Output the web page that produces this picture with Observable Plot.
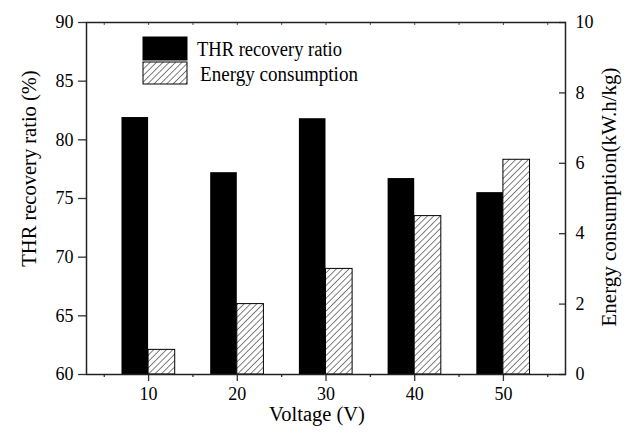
<!DOCTYPE html>
<html><head><meta charset="utf-8">
<script src="https://cdn.jsdelivr.net/npm/d3@7"></script>
<script src="https://cdn.jsdelivr.net/npm/@observablehq/plot@0.6"></script>
<style>body{margin:0;background:#fff} svg, svg text{font-family:"Liberation Serif",serif}</style>
</head><body><div id="chart"></div>
<script>
const voltage = [10, 20, 30, 40, 50];
const thrRatio = [81.9, 77.2, 81.8, 76.7, 75.5];
const energy = [0.7, 2.0, 3.0, 4.5, 6.1];
const xMajorTicks = [10, 20, 30, 40, 50];
const xMinorTicks = [5, 15, 25, 35, 45, 55];
const leftTicks = [60, 65, 70, 75, 80, 85, 90];
const rightTicks = [0, 2, 4, 6, 8, 10];
const seriesNames = ["THR recovery ratio", "Energy consumption"];
const xTitle = "Voltage (V)";
const yLeftTitle = "THR recovery ratio (%)";
const yRightTitle = "Energy consumption(kW.h/kg)";

// right axis (0..10) mapped onto left axis (60..90)
const toLeft = e => 60 + e * 3;
const fromLeft = y => Math.round((y - 60) / 3);
const rows = voltage.map((v, i) => ({v, thr: thrRatio[i], en: energy[i]}));
const barW = 3;
const blank = () => "";

const chart = Plot.plot({
  width: 629, height: 432,
  marginLeft: 86, marginRight: 64, marginTop: 22, marginBottom: 58,
  style: {fontFamily: "'Liberation Serif', serif", fontSize: "18px", color: "#000", background: "#fff"},
  x: {type: "linear", domain: [3, 57]},
  y: {domain: [60, 90]},
  marks: [
    Plot.rectY(rows, {x1: d => d.v - barW, x2: d => d.v, y1: 60, y2: "thr", fill: "#000"}),
    Plot.rectY(rows, {x1: d => d.v, x2: d => d.v + barW, y1: 60, y2: d => toLeft(d.en),
      fill: "url(#hatch)", stroke: "#000", strokeWidth: 1}),
    Plot.axisY(leftTicks, {anchor: "left", tickSize: 8, tickPadding: 5, label: null, stroke: "#333", strokeWidth: 1.3, fill: "#000", fontSize: 18}),
    Plot.axisY(rightTicks.map(toLeft), {anchor: "right", tickSize: -7, tickPadding: 17, label: null,
      tickFormat: fromLeft, stroke: "#333", strokeWidth: 1.3, fill: "#000", fontSize: 18}),
    Plot.axisX(xMajorTicks, {anchor: "bottom", tickSize: 7, tickPadding: 6, label: null, stroke: "#333", strokeWidth: 1.3, fill: "#000", fontSize: 18}),
    Plot.axisX(xMinorTicks, {anchor: "bottom", tickSize: 3, tickFormat: blank, label: null, stroke: "#333", strokeWidth: 1.3}),
    Plot.axisX(xMajorTicks.concat(xMinorTicks), {anchor: "top", tickSize: -2, tickFormat: blank, label: null, stroke: "#555", strokeWidth: 1}),
    Plot.frame({stroke: "#222", strokeWidth: 1.5}),
    Plot.text([yLeftTitle], {frameAnchor: "left", textAnchor: "middle", rotate: -90, dx: -57, dy: -30, fontSize: 20.5, fill: "#000"}),
    Plot.text([yRightTitle], {frameAnchor: "right", textAnchor: "middle", rotate: -90, dx: 44, dy: -1.5, fontSize: 21, fill: "#000"}),
    Plot.text([xTitle], {frameAnchor: "bottom", dy: 46, dx: -9, fontSize: 20.5, fill: "#000"})
  ]
});

const svg = d3.select(chart);
const defs = svg.insert("defs", ":first-child");
const pat = defs.append("pattern").attr("id", "hatch").attr("patternUnits", "userSpaceOnUse")
  .attr("width", 4.5).attr("height", 4.5).attr("patternTransform", "rotate(45)");
pat.append("rect").attr("width", 4.5).attr("height", 4.5).attr("fill", "#fff");
pat.append("line").attr("x1", 0).attr("y1", 0).attr("x2", 0).attr("y2", 4.5)
  .attr("stroke", "#000").attr("stroke-width", 1);

const legendTextLen = [145, 158];
const lg = svg.append("g").attr("transform", "translate(143,37)");
seriesNames.forEach((name, i) => {
  lg.append("rect").attr("x", 0).attr("y", i === 0 ? 0 : 25).attr("width", 44).attr("height", i === 0 ? 23 : 22)
    .attr("fill", i === 0 ? "#000" : "url(#hatch)").attr("stroke", "#000").attr("stroke-width", 1);
  lg.append("text").attr("x", i === 0 ? 54 : 57).attr("y", i === 0 ? 18.5 : 44)
    .attr("text-anchor", "start").attr("font-family", "'Liberation Serif', serif")
    .attr("font-size", 20).attr("textLength", legendTextLen[i]).attr("lengthAdjust", "spacingAndGlyphs")
    .attr("fill", "#000").text(name);
});

document.getElementById("chart").appendChild(chart);
</script></body></html>
